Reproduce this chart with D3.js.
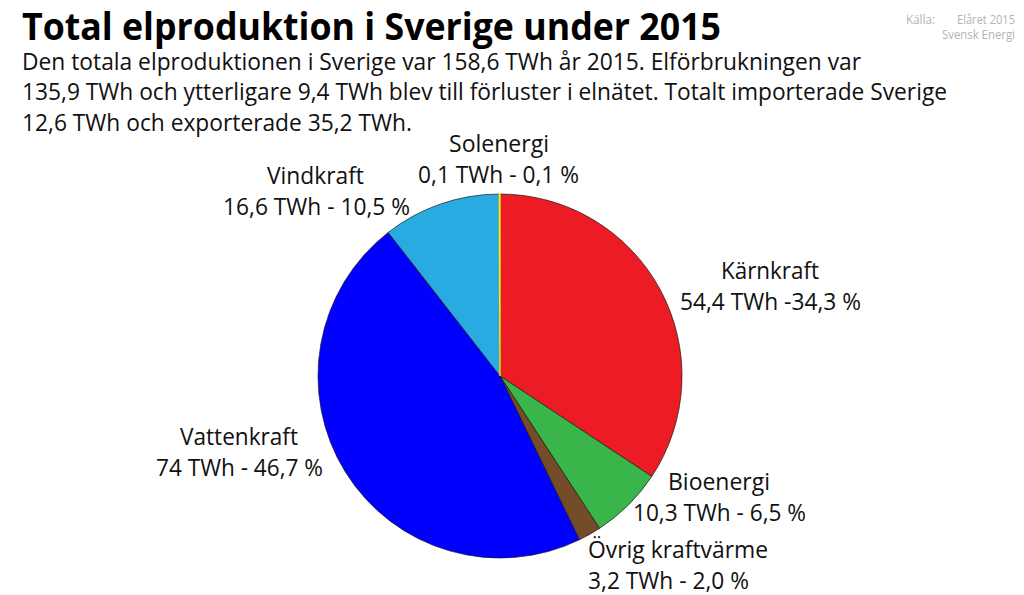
<!DOCTYPE html>
<html>
<head>
<meta charset="utf-8">
<title>Total elproduktion i Sverige under 2015</title>
<script src="https://cdn.jsdelivr.net/npm/d3@7"></script>
<style>
html, body { margin: 0; padding: 0; background: #fff; }
svg { display: block; }
text { font-family: "Open Sans", "Noto Sans", sans-serif; fill: #111; }
</style>
</head>
<body>
<div id="viz"></div>
<script>
// Data, clockwise from twelve o'clock
var sources = ["Kärnkraft", "Bioenergi", "Övrig kraftvärme", "Vattenkraft", "Vindkraft", "Solenergi"];
var twh = [54.4, 10.3, 3.2, 74, 16.6, 0.1];
var valueLabels = ["54,4 TWh -34,3 %", "10,3 TWh - 6,5 %", "3,2 TWh - 2,0 %", "74 TWh - 46,7 %", "16,6 TWh - 10,5 %", "0,1 TWh - 0,1 %"];
var colors = ["#ed1c24", "#39b54a", "#754c29", "#0000ff", "#29abe2", "#f7ec13"];

var title = "Total elproduktion i Sverige under 2015";
var introLines = [
    "Den totala elproduktionen i Sverige var 158,6 TWh år 2015. Elförbrukningen var",
    "135,9 TWh och ytterligare 9,4 TWh blev till förluster i elnätet. Totalt importerade Sverige",
    "12,6 TWh och exporterade 35,2 TWh."
];

var width = 1024, height = 595;
var PieX = 500, PieY = 376, PieR = 182;

// x-start and x-end of both label lines, and the first baseline
var labelBoxes = [
    [721, 819, 680, 861, 279],
    [668, 770, 633, 806, 490],
    [588, 768, 588, 749, 558],
    [180, 298, 156, 323, 445],
    [267, 364, 223, 410, 184],
    [449, 549, 418, 579, 152]
];

var svg = d3.select("#viz").append("svg")
    .attr("width", width)
    .attr("height", height);

// Text squeezed to the width it has in the picture
function fit_text(x0, x1, y, size, str) {
    return svg.append("text")
        .attr("x", x0)
        .attr("y", y)
        .attr("font-size", size)
        .attr("textLength", x1 - x0)
        .attr("lengthAdjust", "spacingAndGlyphs")
        .text(str);
}

var pie = d3.pie().sort(null).value(function(d) { return d; });
var arc = d3.arc().innerRadius(0).outerRadius(PieR);

svg.append("g")
    .attr("transform", "translate(" + PieX + "," + PieY + ")")
    .selectAll("path")
    .data(pie(twh))
    .enter().append("path")
    .attr("d", arc)
    .attr("fill", function(d, i) { return colors[i]; })
    // the solar slice is under a pixel wide, a dark outline would hide it
    .attr("stroke", function(d, i) { return i == 5 ? colors[5] : "#1a1a1a"; })
    .attr("stroke-width", function(d, i) { return i == 5 ? 1.4 : 0.7; });

fit_text(22, 721, 39.5, 37, title).attr("font-weight", 700).style("fill", "#000");

var introEnds = [861, 947, 412];
var introBase = [70, 100, 131];
introLines.forEach(function(line, i) {
    fit_text(22, introEnds[i], introBase[i], 24, line);
});

sources.forEach(function(name, i) {
    var b = labelBoxes[i];
    fit_text(b[0], b[1], b[4], 24, name);
    fit_text(b[2], b[3], b[4] + 31, 24, valueLabels[i]);
});

fit_text(906, 935, 24, 12.5, "Källa:").style("fill", "#b3b3b3");
fit_text(957, 1015, 24, 12.5, "Elåret 2015").style("fill", "#b3b3b3");
fit_text(942, 1015, 39, 12.5, "Svensk Energi").style("fill", "#b3b3b3");
</script>
</body>
</html>
